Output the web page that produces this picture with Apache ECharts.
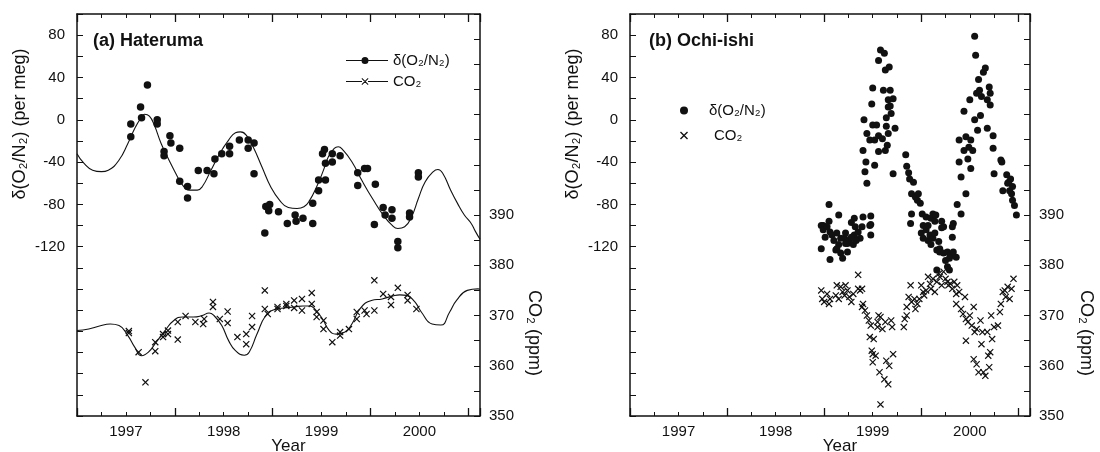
<!DOCTYPE html>
<html>
<head>
<meta charset="utf-8">
<script src="https://cdn.jsdelivr.net/npm/echarts@6/dist/echarts.min.js"></script>
<style>
  html, body { margin: 0; padding: 0; background: #fff; }
  #chart { width: 1100px; height: 452px; }
</style>
</head>
<body>
<div id="chart"></div>
<script>
// (a) Hateruma: flask samples [year, value]
const hatO2 = [
  [1997.05, -16], [1997.05, -4], [1997.15, 12], [1997.16, 2], [1997.22, 33],
  [1997.32, 0], [1997.32, -4], [1997.39, -30], [1997.39, -34], [1997.45, -15],
  [1997.46, -22], [1997.55, -27], [1997.55, -58], [1997.63, -63], [1997.63, -74],
  [1997.74, -48], [1997.83, -48], [1997.90, -51], [1997.91, -37], [1997.98, -32],
  [1998.06, -25], [1998.06, -32], [1998.16, -19], [1998.25, -19], [1998.25, -27],
  [1998.31, -22], [1998.31, -51], [1998.42, -107], [1998.43, -82], [1998.47, -80],
  [1998.46, -86], [1998.56, -87], [1998.65, -98], [1998.73, -90], [1998.74, -96],
  [1998.81, -93], [1998.91, -98], [1998.91, -79], [1998.97, -67], [1998.97, -57],
  [1999.04, -57], [1999.04, -41], [1999.01, -32], [1999.03, -28], [1999.11, -32],
  [1999.11, -40], [1999.19, -34], [1999.37, -50], [1999.44, -46], [1999.47, -46],
  [1999.37, -62], [1999.55, -61], [1999.54, -99], [1999.63, -83], [1999.65, -90],
  [1999.72, -85], [1999.72, -93], [1999.78, -115], [1999.78, -121], [1999.90, -88],
  [1999.90, -92], [1999.99, -50], [1999.99, -54]
];

const hatO2Fit = [
  [1996.5, -32], [1996.57, -41], [1996.66, -47.6], [1996.75, -49], [1996.82, -47.6],
  [1996.93, -38], [1997.02, -22.4], [1997.09, -8.2], [1997.15, 1.2], [1997.19, 5.3],
  [1997.24, 3.5], [1997.29, -5], [1997.36, -22.4], [1997.44, -38], [1997.51, -50.7],
  [1997.58, -61.8], [1997.65, -66.5], [1997.73, -66.5], [1997.78, -63.3], [1997.87, -47.6],
  [1997.96, -31.8], [1998.05, -19.2], [1998.12, -12.3], [1998.17, -11.4], [1998.23, -14.5],
  [1998.30, -25.5], [1998.39, -44.4], [1998.48, -63.3], [1998.57, -75.9], [1998.66, -82.9],
  [1998.75, -83.8], [1998.82, -82.2], [1998.88, -75.9], [1998.95, -63.3], [1999.02, -47.6],
  [1999.07, -35], [1999.13, -27.1], [1999.17, -25.5], [1999.22, -28.7], [1999.31, -39.7],
  [1999.42, -58.6], [1999.53, -75.9], [1999.63, -90], [1999.72, -99.6], [1999.78, -102.7],
  [1999.85, -101.1], [1999.92, -91.7], [1999.99, -74.4], [2000.06, -58.6], [2000.14, -49.2],
  [2000.19, -47], [2000.24, -50.7], [2000.32, -66.5], [2000.39, -79], [2000.46, -90],
  [2000.53, -98], [2000.57, -105], [2000.62, -113]
];

const hatCO2 = [
  [1997.03, 366.9], [1997.03, 366.5], [1997.13, 362.7], [1997.20, 356.7], [1997.30, 362.9],
  [1997.30, 364.7], [1997.38, 365.7], [1997.38, 366.3], [1997.43, 367], [1997.43, 366.3],
  [1997.53, 368.7], [1997.53, 365.2], [1997.61, 369.9], [1997.71, 368.7], [1997.79, 368.3],
  [1997.80, 369.3], [1997.89, 372.7], [1997.89, 371.7], [1997.96, 369.3], [1998.04, 370.8],
  [1998.04, 368.5], [1998.14, 365.7], [1998.23, 366.3], [1998.23, 364.3], [1998.29, 369.9],
  [1998.29, 367.7], [1998.42, 375], [1998.42, 371.3], [1998.45, 370.3], [1998.55, 371.7],
  [1998.55, 371.3], [1998.64, 372.3], [1998.64, 371.9], [1998.72, 373], [1998.72, 371.5],
  [1998.80, 373.3], [1998.80, 371], [1998.90, 374.5], [1998.90, 372.3], [1998.95, 370.7],
  [1998.95, 369.7], [1999.02, 369], [1999.02, 367.3], [1999.11, 364.7], [1999.19, 366.7],
  [1999.19, 366], [1999.28, 367.3], [1999.36, 370.7], [1999.36, 369.3], [1999.44, 371],
  [1999.46, 370.3], [1999.54, 377], [1999.54, 371], [1999.63, 374.3], [1999.71, 373.7],
  [1999.71, 372.1], [1999.78, 375.5], [1999.88, 374.1], [1999.88, 373], [1999.97, 371.3]
];

const hatCO2Fit = [
  [1996.5, 367], [1996.62, 367.3], [1996.73, 367.9], [1996.84, 368.3], [1996.93, 368],
  [1997.02, 366], [1997.09, 363.7], [1997.16, 362], [1997.23, 362.7], [1997.31, 364.7],
  [1997.40, 367], [1997.49, 369], [1997.58, 369.7], [1997.69, 369.7], [1997.78, 370],
  [1997.85, 370.5], [1997.90, 370], [1997.98, 368], [1998.05, 365], [1998.12, 363],
  [1998.21, 362.1], [1998.26, 362.7], [1998.34, 366.3], [1998.43, 370], [1998.52, 371.2],
  [1998.61, 371.5], [1998.72, 371.7], [1998.81, 371.9], [1998.88, 371.9], [1998.93, 371.3],
  [1999.01, 369.3], [1999.08, 367], [1999.15, 366.3], [1999.24, 366.7], [1999.31, 368.3],
  [1999.40, 371.5], [1999.51, 373], [1999.62, 373.3], [1999.73, 373.9], [1999.80, 374.1],
  [1999.87, 374], [1999.95, 372.8], [2000.02, 370.7], [2000.13, 368.3], [2000.22, 368.1],
  [2000.31, 370.7], [2000.38, 373], [2000.49, 375], [2000.60, 375.3], [2000.62, 375.2]
];

// (b) Ochi-ishi
const ochO2 = [
  [1998.55, -80], [1998.65, -90], [1998.49, -100], [1998.55, -96], [1998.81, -93],
  [1998.82, -101], [1998.90, -92], [1998.98, -91], [1998.98, -99],
  [1998.47, -122], [1998.47, -100], [1998.49, -104], [1998.53, -101], [1998.56, -106],
  [1998.56, -132], [1998.60, -114], [1998.62, -123], [1998.65, -118], [1998.67, -126],
  [1998.69, -131], [1998.71, -112], [1998.72, -107], [1998.74, -117], [1998.76, -114],
  [1998.80, -118], [1998.81, -109], [1998.85, -106], [1998.87, -112], [1998.89, -101],
  [1998.97, -100], [1998.98, -109], [1998.78, -97], [1998.51, -111], [1998.58, -109],
  [1998.63, -107], [1998.72, -117], [1998.78, -111], [1998.83, -114], [1998.67, -112],
  [1998.63, -122], [1998.74, -125],
  [1998.91, 0], [1998.90, -29], [1998.92, -49], [1998.93, -40], [1998.94, -60],
  [1998.94, -13], [1998.97, -19], [1998.99, 15], [1999.00, 30], [1999.00, -5],
  [1999.02, -19], [1999.02, -43], [1999.04, -5], [1999.06, -15], [1999.06, -30],
  [1999.06, 56], [1999.08, 66], [1999.10, -18], [1999.11, 28], [1999.12, 63],
  [1999.13, 47], [1999.16, -13], [1999.16, 12], [1999.17, 50], [1999.13, -29],
  [1999.15, -24], [1999.14, -6], [1999.14, 2], [1999.16, 19], [1999.18, 13],
  [1999.18, 28], [1999.19, 6], [1999.21, 20], [1999.21, -51], [1999.23, -8],
  [1999.34, -33], [1999.35, -44], [1999.37, -50], [1999.38, -56], [1999.42, -59],
  [1999.40, -70], [1999.44, -73], [1999.46, -76], [1999.47, -70], [1999.49, -79],
  [1999.40, -89], [1999.51, -89], [1999.55, -92], [1999.60, -93], [1999.62, -89],
  [1999.64, -96], [1999.65, -90], [1999.71, -96], [1999.73, -101], [1999.83, -98],
  [1999.39, -98], [1999.52, -100], [1999.50, -107], [1999.52, -112], [1999.55, -104],
  [1999.57, -114], [1999.59, -109], [1999.60, -118], [1999.62, -112], [1999.64, -107],
  [1999.66, -123], [1999.68, -115], [1999.69, -122], [1999.71, -102], [1999.69, -125],
  [1999.73, -126], [1999.75, -133], [1999.77, -125], [1999.79, -131], [1999.80, -128],
  [1999.82, -111], [1999.83, -125], [1999.86, -130], [1999.77, -139], [1999.79, -142],
  [1999.66, -142], [1999.82, -101], [1999.57, -100],
  [1999.87, -80], [1999.89, -40], [1999.89, -19], [1999.91, -54], [1999.91, -89],
  [1999.94, 8], [1999.94, -29], [1999.96, -16], [1999.96, -70], [1999.98, -37],
  [1999.99, -26], [2000.00, 19], [2000.01, -46], [2000.01, -19], [2000.03, -29],
  [2000.05, 79], [2000.05, 0], [2000.06, 61], [2000.07, 25], [2000.08, -10],
  [2000.09, 38], [2000.10, 28], [2000.11, 4], [2000.12, 22], [2000.14, 45],
  [2000.16, 49], [2000.18, 19], [2000.18, -8], [2000.20, 31], [2000.21, 25],
  [2000.21, 14], [2000.24, -15], [2000.24, -27], [2000.25, -51], [2000.32, -38],
  [2000.33, -40], [2000.34, -67], [2000.38, -52], [2000.39, -60], [2000.41, -67],
  [2000.42, -56], [2000.44, -63], [2000.44, -76], [2000.46, -81], [2000.48, -90],
  [2000.43, -70], [2000.40, -59]
];

const ochCO2 = [
  [1998.47, 375], [1998.48, 373.3], [1998.50, 372.7], [1998.53, 374.3], [1998.55, 372.3],
  [1998.56, 373.3], [1998.62, 374], [1998.63, 376], [1998.65, 373.3], [1998.67, 375.7],
  [1998.69, 374.7], [1998.71, 374], [1998.72, 376], [1998.74, 375], [1998.76, 373.7],
  [1998.78, 372.7], [1998.80, 374.3], [1998.85, 378.1], [1998.85, 375.3], [1998.87, 375],
  [1998.89, 375.3], [1998.89, 371.7], [1998.90, 372.3], [1998.92, 371], [1998.94, 370],
  [1998.96, 369], [1998.97, 365.7], [1998.98, 368], [1998.99, 363], [1999.00, 360.7],
  [1999.01, 365.3], [1999.03, 362], [1999.05, 368.7], [1999.06, 370], [1999.07, 358.7],
  [1999.08, 352.3], [1999.08, 369.7], [1999.10, 367.3], [1999.12, 357.3], [1999.13, 368.7],
  [1999.14, 361], [1999.16, 356.3], [1999.17, 360], [1999.19, 369], [1999.20, 367.7],
  [1999.21, 362.3], [1999.05, 367.7], [1999.00, 362.3],
  [1999.32, 367.7], [1999.33, 369.3], [1999.35, 370], [1999.35, 371.7], [1999.37, 373.7],
  [1999.39, 376], [1999.40, 372.7], [1999.43, 373.3], [1999.44, 371.3], [1999.46, 372.3],
  [1999.48, 373.3], [1999.50, 376], [1999.52, 374.7], [1999.53, 374], [1999.55, 375],
  [1999.57, 377.7], [1999.59, 376.3], [1999.60, 375.3], [1999.62, 377.3], [1999.64, 374.7],
  [1999.66, 376.7], [1999.68, 378.3], [1999.69, 377.7], [1999.71, 376], [1999.73, 378.7],
  [1999.75, 377.3], [1999.77, 376.7], [1999.78, 376], [1999.80, 376.3], [1999.82, 375.3],
  [1999.84, 376.7], [1999.86, 374.3], [1999.86, 372.3], [1999.87, 376], [1999.89, 374.7],
  [1999.91, 371.3], [1999.93, 370.3], [1999.95, 373.7], [1999.96, 369.3], [1999.96, 365],
  [1999.98, 368.7], [2000.00, 370], [2000.02, 368], [2000.04, 371.7], [2000.04, 361.3],
  [2000.05, 366.7], [2000.07, 360.3], [2000.07, 367.3], [2000.09, 358.7], [2000.11, 369],
  [2000.12, 364.3], [2000.13, 366.7], [2000.14, 358.7], [2000.16, 358], [2000.18, 366.7],
  [2000.19, 362], [2000.20, 359.7], [2000.21, 362.7], [2000.22, 370], [2000.23, 365.3],
  [2000.25, 367.7], [2000.29, 368], [2000.31, 370.7], [2000.32, 372.3], [2000.34, 374.7],
  [2000.36, 375], [2000.37, 373.7], [2000.39, 375.7], [2000.41, 373.3], [2000.43, 375.3],
  [2000.45, 377.3]
];

const yearLabels = [1997, 1998, 1999, 2000];
const o2Labels = [80, 40, 0, -40, -80, -120];
const co2Labels = [390, 380, 370, 360, 350];

const font = '"Liberation Sans", Arial, sans-serif';
const ink = '#111';
const cross = 'path://M0,1.2L1.2,0L10,8.8L8.8,10ZM8.8,0L10,1.2L1.2,10L0,8.8Z';
const legendDot = 'path://M0,3.6h15.5v0.8h-15.5ZM22.5,3.6h19.5v0.8h-19.5ZM15.5,4A3.5,3.5,0,1,0,22.5,4A3.5,3.5,0,1,0,15.5,4Z';
const legendCross = 'path://M0,3.6h16v0.8h-16ZM22,3.6h20v0.8h-20ZM15.5,1.2L16.2,0.5L22.5,6.8L21.8,7.5ZM21.8,0.5L22.5,1.2L16.2,7.5L15.5,6.8Z';

const X_MIN = 1996.5, X_MAX = 2000.62;

function xAxesFor(grid) {
  const base = {
    type: 'value', gridIndex: grid, min: X_MIN, max: X_MAX,
    splitLine: { show: false },
    axisLine: { onZero: false, lineStyle: { color: ink, width: 1.5 } },
    axisTick: { inside: true, length: 4, lineStyle: { color: ink } },
    axisLabel: { show: false }
  };
  const longTicks = {
    interval: 1, axisLine: { show: false, onZero: false },
    axisTick: { inside: true, length: 8, lineStyle: { color: ink, width: 1.3 } }
  };
  return [
    Object.assign({}, base, {
      position: 'bottom', interval: 0.25,
      axisLabel: {
        margin: 8, fontSize: 15, color: ink, fontFamily: font,
        formatter: v => yearLabels.find(y => Math.abs(y - v) < 1e-6) ? String(Math.round(v)) : ''
      },
      name: 'Year', nameLocation: 'middle', nameGap: 22, nameMoveOverlap: false,
      nameTextStyle: { fontSize: 17, color: ink, fontFamily: font, padding: [0, 0, 0, 20] }
    }),
    Object.assign({}, base, { position: 'top', interval: 0.25 }),
    Object.assign({}, base, longTicks, { position: 'bottom' }),
    Object.assign({}, base, longTicks, { position: 'top' })
  ];
}

function yAxesFor(grid) {
  return [
    {
      type: 'value', gridIndex: grid, position: 'left', min: -280, max: 100, interval: 20,
      splitLine: { show: false },
      axisLine: { onZero: false, lineStyle: { color: ink, width: 1.5 } },
      axisTick: { inside: true, length: 6, lineStyle: { color: ink } },
      axisLabel: {
        margin: 12, fontSize: 15, color: ink, fontFamily: font,
        formatter: v => o2Labels.includes(v) ? String(v) : ''
      }
    },
    {
      type: 'value', gridIndex: grid, position: 'right', min: 350, max: 430, interval: 5,
      splitLine: { show: false },
      axisLine: { onZero: false, lineStyle: { color: ink, width: 1.5 } },
      axisTick: { inside: true, length: 6, lineStyle: { color: ink } },
      axisLabel: {
        margin: 9, fontSize: 15, color: ink, fontFamily: font,
        formatter: v => co2Labels.includes(v) ? String(v) : ''
      }
    }
  ];
}

const chart = echarts.init(document.getElementById('chart'));

const option = {
  animation: false,
  backgroundColor: '#fff',
  textStyle: { fontFamily: font },
  grid: [
    { left: 77, top: 14, width: 403, height: 402, outerBoundsMode: 'none', containLabel: false },
    { left: 630, top: 14, width: 400, height: 402, outerBoundsMode: 'none', containLabel: false }
  ],
  title: [
    { text: '(a) Hateruma', left: 93, top: 32, padding: 0,
      textStyle: { fontSize: 18, fontWeight: 'bold', color: ink, fontFamily: font } },
    { text: '(b) Ochi-ishi', left: 649, top: 32, padding: 0,
      textStyle: { fontSize: 18, fontWeight: 'bold', color: ink, fontFamily: font } }
  ],
  legend: [
    {
      orient: 'vertical', left: 346, top: 53, padding: 0, itemGap: 6,
      itemWidth: 42, itemHeight: 7,
      textStyle: { fontSize: 15, color: ink, fontFamily: font },
      data: [
        { name: 'δ(O₂/N₂)', icon: legendDot, itemStyle: { color: ink } },
        { name: 'CO₂', icon: legendCross, itemStyle: { color: ink } }
      ]
    },
    {
      orient: 'vertical', left: 680, top: 103, padding: 0, itemGap: 10,
      itemWidth: 8, itemHeight: 8,
      textStyle: { fontSize: 15, color: ink, fontFamily: font },
      data: [
        { name: 'δ(O₂/N₂)', icon: 'circle', itemStyle: { color: ink },
          textStyle: { padding: [0, 0, 0, 16] } },
        { name: 'CO₂', icon: cross, itemStyle: { color: ink },
          textStyle: { padding: [0, 0, 0, 21] } }
      ]
    }
  ],
  xAxis: xAxesFor(0).concat(xAxesFor(1)),
  yAxis: yAxesFor(0).concat(yAxesFor(1)),
  graphic: [
    { type: 'text', x: 20, y: 124, rotation: Math.PI / 2,
      style: { text: 'δ(O₂/N₂) (per meg)', font: '18px ' + font, fill: ink, align: 'center', verticalAlign: 'middle' } },
    { type: 'text', x: 534, y: 333, rotation: -Math.PI / 2,
      style: { text: 'CO₂ (ppm)', font: '18px ' + font, fill: ink, align: 'center', verticalAlign: 'middle' } },
    { type: 'text', x: 573, y: 124, rotation: Math.PI / 2,
      style: { text: 'δ(O₂/N₂) (per meg)', font: '18px ' + font, fill: ink, align: 'center', verticalAlign: 'middle' } },
    { type: 'text', x: 1086, y: 333, rotation: -Math.PI / 2,
      style: { text: 'CO₂ (ppm)', font: '18px ' + font, fill: ink, align: 'center', verticalAlign: 'middle' } }
  ],
  series: [
    { name: 'δ(O₂/N₂)', type: 'scatter', xAxisIndex: 0, yAxisIndex: 0, data: hatO2,
      symbol: 'circle', symbolSize: 7.5, itemStyle: { color: ink, opacity: 1 } },
    { name: 'δ fit', type: 'line', xAxisIndex: 0, yAxisIndex: 0, data: hatO2Fit,
      smooth: true, showSymbol: false, lineStyle: { color: ink, width: 1.1 } },
    { name: 'CO₂', type: 'scatter', xAxisIndex: 0, yAxisIndex: 1, data: hatCO2,
      symbol: cross, symbolSize: 7, itemStyle: { color: ink, opacity: 1 } },
    { name: 'CO₂ fit', type: 'line', xAxisIndex: 0, yAxisIndex: 1, data: hatCO2Fit,
      smooth: true, showSymbol: false, lineStyle: { color: ink, width: 1.1 } },
    { name: 'δ(O₂/N₂)', type: 'scatter', xAxisIndex: 4, yAxisIndex: 2, data: ochO2,
      symbol: 'circle', symbolSize: 7, itemStyle: { color: ink, opacity: 1 } },
    { name: 'CO₂', type: 'scatter', xAxisIndex: 4, yAxisIndex: 3, data: ochCO2,
      symbol: cross, symbolSize: 7, itemStyle: { color: ink, opacity: 1 } }
  ]
};

chart.setOption(option);
window.addEventListener('resize', chart.resize);
</script>
</body>
</html>
